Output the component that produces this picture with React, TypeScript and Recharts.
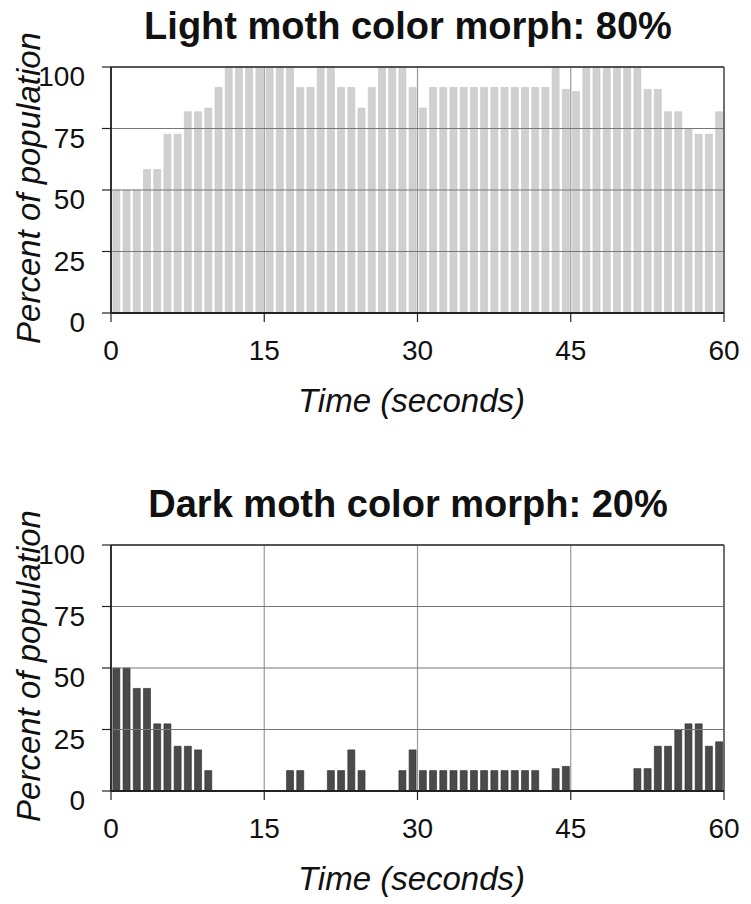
import { BarChart, Bar, XAxis, YAxis, CartesianGrid, ReferenceLine } from "recharts";

// one bar per second of the run
const seconds = [
  0, 1, 2, 3, 4, 5, 6, 7, 8, 9, 10, 11, 12, 13, 14, 15, 16, 17, 18, 19,
  20, 21, 22, 23, 24, 25, 26, 27, 28, 29, 30, 31, 32, 33, 34, 35, 36, 37, 38, 39,
  40, 41, 42, 43, 44, 45, 46, 47, 48, 49, 50, 51, 52, 53, 54, 55, 56, 57, 58, 59,
];

const lightPct = [
  50, 50, 50, 58.3, 58.3, 72.7, 72.7, 81.8, 81.8, 83.3,
  91.7, 100, 100, 100, 100, 100, 100, 100, 91.7, 91.7,
  100, 100, 91.7, 91.7, 83.3, 91.7, 100, 100, 100, 91.7,
  83.3, 91.7, 91.7, 91.7, 91.7, 91.7, 91.7, 91.7, 91.7, 91.7,
  91.7, 91.7, 91.7, 100, 90.9, 90, 100, 100, 100, 100,
  100, 100, 90.9, 90.9, 81.8, 81.8, 75, 72.7, 72.7, 81.8,
];

const darkPct = [
  50, 50, 41.7, 41.7, 27.3, 27.3, 18.2, 18.2, 16.7, 8.3,
  0, 0, 0, 0, 0, 0, 0, 8.3, 8.3, 0,
  0, 8.3, 8.3, 16.7, 8.3, 0, 0, 0, 8.3, 16.7,
  8.3, 8.3, 8.3, 8.3, 8.3, 8.3, 8.3, 8.3, 8.3, 8.3,
  8.3, 8.3, 0, 9.1, 10, 0, 0, 0, 0, 0,
  0, 9.1, 9.1, 18.2, 18.2, 25, 27.3, 27.3, 18.2, 20,
];

const xTicks = [0, 15, 30, 45, 60];
const yTicks = [0, 25, 50, 75, 100];

const FONT = '"Liberation Sans", Arial, Helvetica, sans-serif';
const INK = "#111";

// bars sit in the middle of their one-second bin
const toRows = (vals: number[]) => seconds.map((s, i) => ({ t: s + 0.5, v: vals[i] }));

function YTick({ x, y, payload }: any) {
  return (
    <text x={x} y={y} dy={19} textAnchor="end" fontSize={28} fontFamily={FONT} fill={INK}>
      {payload.value}
    </text>
  );
}

function YTitle({ viewBox }: any) {
  const cy = viewBox.y + viewBox.height / 2 - 2;
  const x = 40;
  return (
    <text
      x={x}
      y={cy}
      textAnchor="middle"
      transform={`rotate(-90, ${x}, ${cy})`}
      fontSize={33}
      fontStyle="italic"
      fontFamily={FONT}
      fill={INK}
    >
      Percent of population
    </text>
  );
}

function XTitle({ viewBox }: any) {
  const cx = viewBox.x + viewBox.width / 2 - 6;
  return (
    <text x={cx} y={412} textAnchor="middle" fontSize={33} fontStyle="italic" fontFamily={FONT} fill={INK}>
      Time (seconds)
    </text>
  );
}

interface PanelProps {
  title: string;
  values: number[];
  fill: string;
  stroke: string;
  height: number;
}

function Panel({ title, values, fill, stroke, height }: PanelProps) {
  return (
    <BarChart
      width={751}
      height={height}
      data={toRows(values)}
      margin={{ top: 67, right: 27, bottom: height - 313 - 60, left: 51 }}
      barCategoryGap="18%"
    >
      <text x={408} y={39} textAnchor="middle" fontSize={38} fontWeight="bold" fontFamily={FONT} fill={INK}>
        {title}
      </text>
      <Bar dataKey="v" fill={fill} stroke={stroke} strokeWidth={0.6} isAnimationActive={false} />
      <CartesianGrid horizontal={false} stroke="#9a9a9a" strokeWidth={1.2} zIndex={350} />
      <CartesianGrid vertical={false} stroke="#777" strokeWidth={1.2} zIndex={350} />
      <ReferenceLine y={100} stroke="#333" strokeWidth={1.5} />
      <ReferenceLine x={60} stroke="#555" strokeWidth={1.5} />
      <XAxis
        dataKey="t"
        type="number"
        domain={[0, 60]}
        ticks={xTicks}
        interval={0}
        height={60}
        tickSize={9}
        tickMargin={18}
        axisLine={{ stroke: "#222", strokeWidth: 1.8 }}
        tickLine={{ stroke: "#222", strokeWidth: 1.2 }}
        tick={{ fontSize: 28, fontFamily: FONT, fill: INK }}
        label={<XTitle />}
      />
      <YAxis
        domain={[0, 100]}
        ticks={yTicks}
        interval={0}
        width={60}
        tickSize={9}
        tickMargin={17}
        axisLine={{ stroke: "#222", strokeWidth: 1.8 }}
        tickLine={{ stroke: "#222", strokeWidth: 1.2 }}
        tick={<YTick />}
        label={<YTitle />}
      />
    </BarChart>
  );
}

export default function App() {
  return (
    <div style={{ position: "absolute", left: 0, top: 0, width: 751, height: 904, background: "#fff" }}>
      <Panel title="Light moth color morph: 80%" values={lightPct} fill="#d0d0d0" stroke="#c4c4c4" height={478} />
      <Panel title="Dark moth color morph: 20%" values={darkPct} fill="#4a4a4a" stroke="#2a2a2a" height={426} />
    </div>
  );
}
